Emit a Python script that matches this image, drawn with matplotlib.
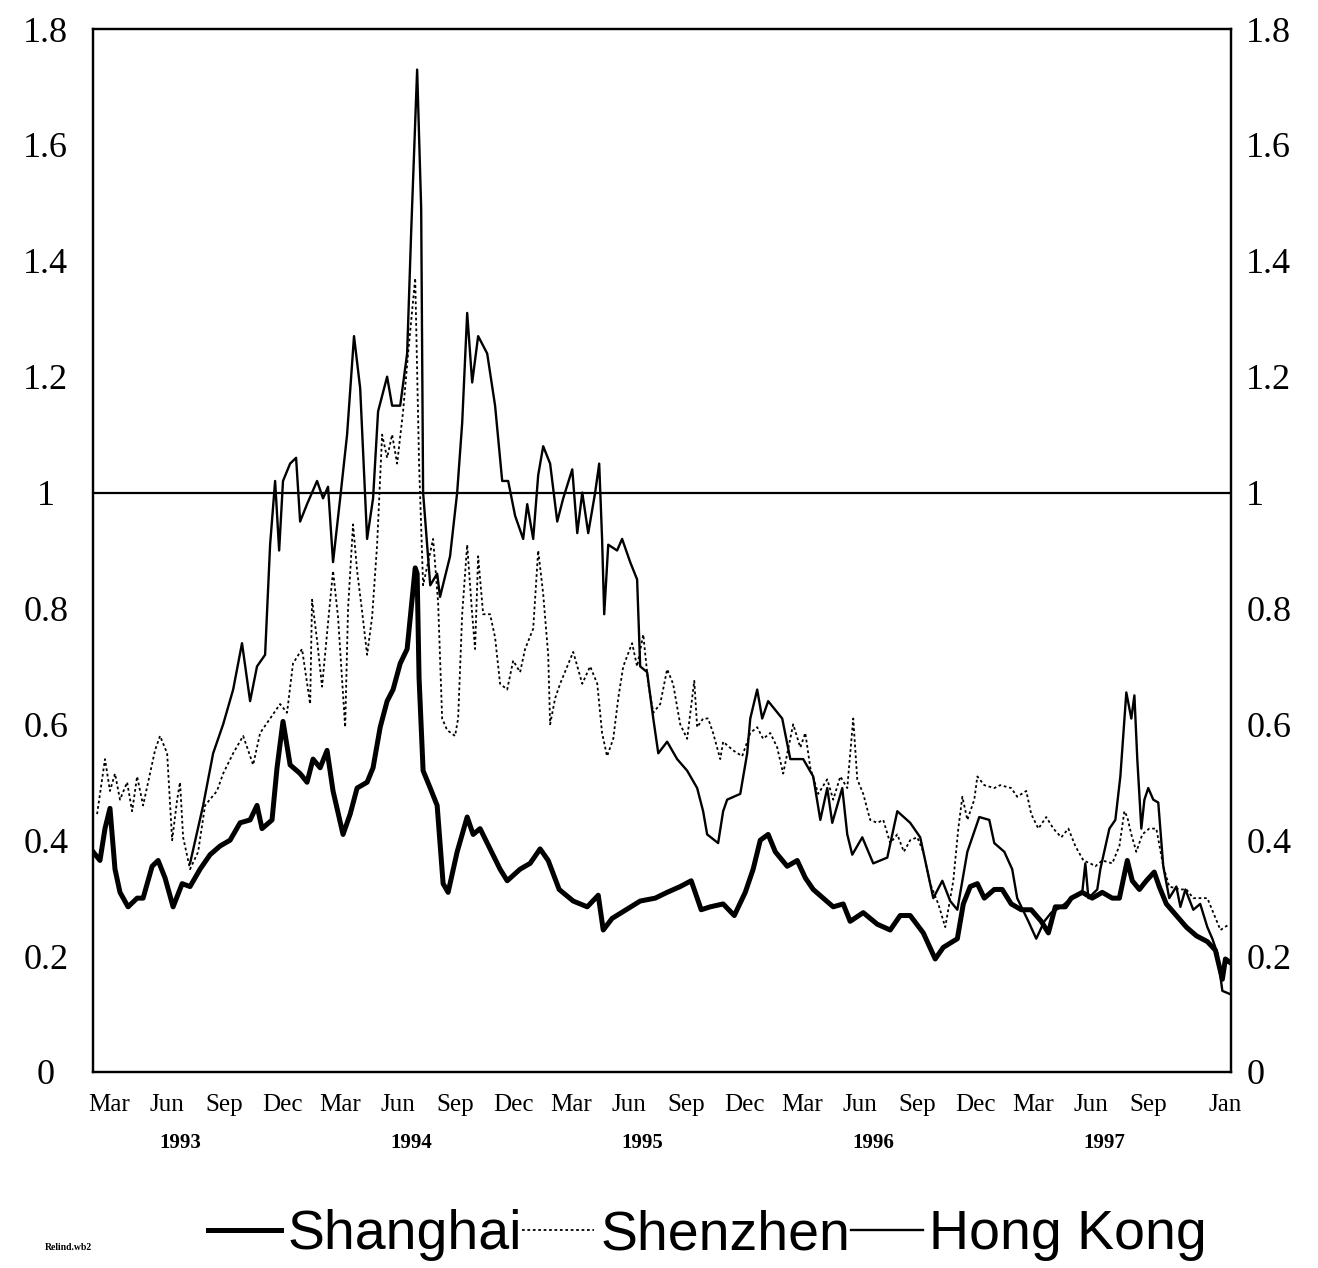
import matplotlib
matplotlib.use("Agg")
import matplotlib.pyplot as plt
from matplotlib.transforms import blended_transform_factory

plt.rcParams['font.family'] = ['Liberation Serif', 'DejaVu Serif']

# time axis: months since Jan 1993 (2 = Mar 1993, 60 = Jan 1998)
hk_t = [6.21, 6.89, 7.41, 7.93, 8.45, 8.91, 9.33, 9.69, 10.11, 10.37, 10.63, 10.84,
        11.04, 11.41, 11.72, 11.93, 12.29, 12.81, 13.12, 13.38, 13.64, 14.01, 14.37,
        14.73, 15.05, 15.41, 15.72, 15.98, 16.45, 16.71, 17.13, 17.49, 17.70, 18.01,
        18.22, 18.32, 18.69, 19.05, 19.20, 19.72, 20.09, 20.35, 20.61, 20.87, 21.18,
        21.65, 22.06, 22.43, 22.74, 23.10, 23.52, 23.73, 24.04, 24.30, 24.56, 24.92,
        25.29, 25.60, 26.07, 26.33, 26.59, 26.90, 27.26, 27.47, 27.62, 27.73, 27.94,
        28.40, 28.66, 29.08, 29.44, 29.60, 29.96, 30.28, 30.54, 31.00, 31.52, 32.04,
        32.56, 32.87, 33.08, 33.65, 33.91, 34.12, 34.80, 35.16, 35.32, 35.68, 35.94,
        36.25, 36.98, 37.40, 38.07, 38.59, 38.96, 39.32, 39.58, 40.10, 40.36, 40.62,
        41.14, 41.71, 42.44, 42.96, 43.63, 44.15, 44.83, 45.30, 45.71, 46.08, 46.60,
        47.22, 47.74, 48.00, 48.52, 48.93, 49.19, 49.77, 50.18, 50.60, 50.96, 51.48,
        52.00, 52.57, 52.73, 52.89, 53.35, 53.51, 53.98, 54.29, 54.55, 54.86, 55.12,
        55.28, 55.43, 55.64, 55.80, 56.00, 56.26, 56.52, 56.78, 57.09, 57.46, 57.67,
        57.93, 58.34, 58.70, 59.07, 59.33, 59.59, 59.85, 60.21]
hk_v = [0.36, 0.46, 0.55, 0.60, 0.66, 0.74, 0.64, 0.70, 0.72, 0.91, 1.02, 0.90,
        1.02, 1.05, 1.06, 0.95, 0.98, 1.02, 0.99, 1.01, 0.88, 0.99, 1.10,
        1.27, 1.18, 0.92, 0.99, 1.14, 1.20, 1.15, 1.15, 1.24, 1.45, 1.73,
        1.49, 1.00, 0.84, 0.86, 0.82, 0.89, 1.00, 1.12, 1.31, 1.19, 1.27,
        1.24, 1.15, 1.02, 1.02, 0.96, 0.92, 0.98, 0.92, 1.03, 1.08, 1.05,
        0.95, 0.99, 1.04, 0.93, 1.00, 0.93, 1.00, 1.05, 0.92, 0.79, 0.91,
        0.90, 0.92, 0.88, 0.85, 0.70, 0.69, 0.61, 0.55, 0.57, 0.54, 0.52,
        0.49, 0.45, 0.41, 0.395, 0.45, 0.47, 0.48, 0.55, 0.61, 0.66, 0.61,
        0.64, 0.61, 0.54, 0.54, 0.51, 0.435, 0.49, 0.43, 0.49, 0.41, 0.375,
        0.405, 0.36, 0.37, 0.45, 0.43, 0.405, 0.30, 0.33, 0.295, 0.28, 0.38,
        0.44, 0.435, 0.395, 0.38, 0.35, 0.30, 0.26, 0.23, 0.26, 0.275, 0.285,
        0.30, 0.31, 0.36, 0.30, 0.315, 0.35, 0.42, 0.435, 0.51, 0.655, 0.61,
        0.65, 0.54, 0.42, 0.47, 0.49, 0.47, 0.465, 0.355, 0.30, 0.32, 0.285,
        0.315, 0.28, 0.29, 0.25, 0.23, 0.205, 0.14, 0.135]

sz_t = [1.38, 1.79, 2.05, 2.31, 2.57, 2.94, 3.20, 3.46, 3.77, 4.13, 4.39, 4.65,
        5.02, 5.28, 5.54, 5.69, 5.85, 6.21, 6.63, 6.99, 7.61, 7.93, 8.45, 8.97,
        9.49, 9.85, 10.37, 10.89, 11.25, 11.56, 12.03, 12.45, 12.55, 12.81, 13.07,
        13.38, 13.64, 13.90, 14.27, 14.42, 14.68, 14.89, 15.15, 15.41, 15.67, 15.93,
        16.19, 16.45, 16.71, 16.97, 17.28, 17.54, 17.91, 18.11, 18.32, 18.84, 19.10,
        19.31, 19.57, 19.98, 20.14, 20.35, 20.61, 20.87, 21.02, 21.18, 21.44, 21.80,
        22.06, 22.32, 22.69, 23.00, 23.36, 23.62, 24.04, 24.30, 24.56, 24.82, 24.92,
        25.18, 25.44, 25.81, 26.12, 26.59, 27.00, 27.37, 27.62, 27.88, 28.20, 28.46,
        28.72, 29.18, 29.44, 29.76, 30.02, 30.28, 30.64, 31.00, 31.31, 31.68, 32.04,
        32.41, 32.56, 32.87, 33.13, 33.39, 33.76, 33.91, 34.43, 34.90, 35.32, 35.68,
        35.99, 36.36, 36.72, 37.03, 37.55, 37.92, 38.18, 38.44, 38.85, 39.32, 39.63,
        40.00, 40.36, 40.67, 40.88, 41.19, 41.55, 41.92, 42.23, 42.59, 42.96, 43.30,
        43.63, 44.00, 44.31, 44.67, 45.09, 45.45, 45.87, 46.13, 46.34, 46.60, 46.96,
        47.12, 47.48, 48.00, 48.31, 48.88, 49.19, 49.66, 49.92, 50.29, 50.70, 51.07,
        51.48, 51.85, 52.21, 52.63, 52.99, 53.25, 53.61, 54.13, 54.50, 54.76, 54.91,
        55.12, 55.38, 55.69, 56.05, 56.42, 56.78, 57.09, 57.67, 57.98, 58.34, 58.70,
        59.07, 59.38, 59.75, 60.21]
sz_v = [0.445, 0.54, 0.485, 0.515, 0.47, 0.50, 0.45, 0.51, 0.46, 0.515, 0.555, 0.58,
        0.55, 0.40, 0.47, 0.50, 0.405, 0.35, 0.38, 0.46, 0.485, 0.515, 0.55, 0.58,
        0.53, 0.585, 0.61, 0.635, 0.62, 0.705, 0.73, 0.635, 0.815, 0.745, 0.665,
        0.775, 0.865, 0.785, 0.595, 0.80, 0.945, 0.865, 0.795, 0.72, 0.785, 0.91,
        1.10, 1.06, 1.10, 1.05, 1.14, 1.24, 1.37, 1.05, 0.84, 0.92, 0.81,
        0.61, 0.59, 0.58, 0.61, 0.79, 0.91, 0.79, 0.73, 0.89, 0.79, 0.79,
        0.75, 0.67, 0.66, 0.71, 0.69, 0.73, 0.765, 0.90, 0.825, 0.72, 0.60,
        0.645, 0.67, 0.70, 0.725, 0.67, 0.70, 0.67, 0.585, 0.545, 0.575, 0.645,
        0.70, 0.74, 0.70, 0.755, 0.67, 0.62, 0.635, 0.695, 0.67, 0.60, 0.575,
        0.675, 0.595, 0.61, 0.61, 0.585, 0.54, 0.57, 0.555, 0.545, 0.585, 0.595,
        0.575, 0.585, 0.56, 0.515, 0.60, 0.56, 0.585, 0.525, 0.48, 0.505, 0.47,
        0.51, 0.49, 0.61, 0.505, 0.48, 0.435, 0.43, 0.435, 0.395, 0.41, 0.38,
        0.40, 0.405, 0.38, 0.325, 0.29, 0.25, 0.33, 0.42, 0.475, 0.435, 0.47,
        0.51, 0.495, 0.49, 0.495, 0.49, 0.475, 0.485, 0.445, 0.42, 0.44, 0.42,
        0.405, 0.42, 0.39, 0.365, 0.36, 0.355, 0.365, 0.36, 0.39, 0.45, 0.44,
        0.41, 0.38, 0.41, 0.42, 0.42, 0.355, 0.32, 0.315, 0.315, 0.30, 0.30,
        0.30, 0.275, 0.245, 0.255]

sh_t = [1.17, 1.53, 1.79, 2.05, 2.31, 2.57, 2.99, 3.46, 3.77, 4.24, 4.55, 4.91,
        5.33, 5.80, 6.21, 6.73, 7.25, 7.77, 8.29, 8.81, 9.33, 9.69, 9.95, 10.47,
        10.73, 11.04, 11.41, 11.93, 12.29, 12.60, 12.97, 13.33, 13.64, 14.16, 14.53,
        14.89, 15.41, 15.72, 16.09, 16.45, 16.76, 17.13, 17.49, 17.70, 17.91, 18.01,
        18.11, 18.32, 18.69, 19.05, 19.36, 19.62, 20.09, 20.61, 20.92, 21.28, 21.80,
        22.32, 22.69, 23.36, 23.88, 24.40, 24.82, 25.39, 26.12, 26.85, 27.42, 27.68,
        28.14, 28.87, 29.60, 30.38, 31.00, 31.68, 32.25, 32.77, 33.24, 33.91, 34.49,
        35.06, 35.47, 35.84, 36.25, 36.62, 37.24, 37.76, 38.18, 38.59, 39.11, 39.63,
        40.15, 40.51, 41.19, 41.92, 42.59, 43.11, 43.63, 44.31, 44.93, 45.35, 46.08,
        46.39, 46.75, 47.12, 47.48, 48.00, 48.41, 48.88, 49.40, 49.92, 50.44, 50.81,
        51.17, 51.69, 52.00, 52.57, 53.09, 53.61, 54.13, 54.50, 54.91, 55.17, 55.54,
        55.90, 56.31, 56.57, 56.94, 57.46, 57.98, 58.50, 59.07, 59.49, 59.85, 60.01,
        60.21]
sh_v = [0.38, 0.365, 0.42, 0.455, 0.35, 0.31, 0.285, 0.30, 0.30, 0.355, 0.365, 0.335,
        0.285, 0.325, 0.32, 0.35, 0.375, 0.39, 0.40, 0.43, 0.435, 0.46, 0.42, 0.435,
        0.525, 0.605, 0.53, 0.515, 0.50, 0.54, 0.525, 0.555, 0.485, 0.41, 0.445,
        0.49, 0.50, 0.525, 0.595, 0.64, 0.66, 0.705, 0.73, 0.80, 0.87, 0.86,
        0.68, 0.52, 0.49, 0.46, 0.325, 0.31, 0.38, 0.44, 0.41, 0.42, 0.385,
        0.35, 0.33, 0.35, 0.36, 0.385, 0.365, 0.315, 0.295, 0.285, 0.305, 0.245,
        0.265, 0.28, 0.295, 0.30, 0.31, 0.32, 0.33, 0.28, 0.285, 0.29, 0.27,
        0.31, 0.35, 0.40, 0.41, 0.38, 0.355, 0.365, 0.335, 0.315, 0.30, 0.285,
        0.29, 0.26, 0.275, 0.255, 0.245, 0.27, 0.27, 0.24, 0.195, 0.215, 0.23,
        0.29, 0.32, 0.325, 0.30, 0.315, 0.315, 0.29, 0.28, 0.28, 0.26, 0.24,
        0.285, 0.285, 0.30, 0.31, 0.30, 0.31, 0.30, 0.30, 0.365, 0.33, 0.315,
        0.33, 0.345, 0.32, 0.29, 0.27, 0.25, 0.235, 0.225, 0.21, 0.16, 0.195,
        0.19]

month_ticks = [2, 5, 8, 11, 14, 17, 20, 23, 26, 29, 32, 35, 38, 41, 44, 47, 50, 53, 56, 60]
month_labels = ['Mar', 'Jun', 'Sep', 'Dec', 'Mar', 'Jun', 'Sep', 'Dec', 'Mar', 'Jun',
                'Sep', 'Dec', 'Mar', 'Jun', 'Sep', 'Dec', 'Mar', 'Jun', 'Sep', 'Jan']
years = ['1993', '1994', '1995', '1996', '1997']
y_ticks = [0, 0.2, 0.4, 0.6, 0.8, 1, 1.2, 1.4, 1.6, 1.8]
y_labels = ['0', '0.2', '0.4', '0.6', '0.8', '1', '1.2', '1.4', '1.6', '1.8']

fig = plt.figure(figsize=(13.18, 12.68), dpi=100)
ax = fig.add_axes([0.0706, 0.1546, 0.8634, 0.8225])

ax.plot(sh_t, sh_v, color='black', lw=3.6, label='Shanghai', solid_joinstyle='round')
ax.plot(sz_t, sz_v, color='black', lw=1.3, ls=(0, (1.5, 1.5)), label='Shenzhen')
ax.plot(hk_t, hk_v, color='black', lw=1.7, label='Hong Kong')
ax.axhline(1.0, color='black', lw=1.6)

ax.set_xlim(1.17, 60.3)
ax.set_ylim(0, 1.8)

for s in ax.spines.values():
    s.set_linewidth(1.6)

ax.set_xticks(month_ticks)
ax.set_xticklabels(month_labels, fontsize=18)
ax.tick_params(axis='x', length=0, pad=16)

# left labels, centred in the margin
ax.set_yticks(y_ticks)
ax.set_yticklabels(y_labels, fontsize=26)
ax.tick_params(axis='y', length=0, pad=34)
for lab in ax.get_yticklabels():
    lab.set_horizontalalignment('center')

# right labels, same scale
ax2 = ax.twinx()
ax2.set_ylim(ax.get_ylim())
ax2.set_yticks(y_ticks)
ax2.set_yticklabels(y_labels, fontsize=26)
ax2.tick_params(axis='y', length=0, pad=11)
for s in ax2.spines.values():
    s.set_linewidth(1.6)

trans = blended_transform_factory(ax.transData, fig.transFigure)
for i, yr in enumerate(years):
    ax.text(5.7 + 12 * i, 1 - 1143 / 1268, yr, transform=trans, ha='center', va='center',
            fontsize=15, fontweight='bold')

leg = fig.legend(*ax.get_legend_handles_labels(), loc='center',
                 bbox_to_anchor=(0.537, 1 - 1235 / 1268), ncol=3,
                 frameon=False, handlelength=1.3, handletextpad=0.12, columnspacing=0.0,
                 prop={'family': 'Liberation Sans', 'size': 40})

fig.text(0.034, 1 - 1247 / 1268, 'Relind.wb2', fontsize=7, fontweight='bold',
         va='center', ha='left')

fig.savefig('out.png', dpi=100)
